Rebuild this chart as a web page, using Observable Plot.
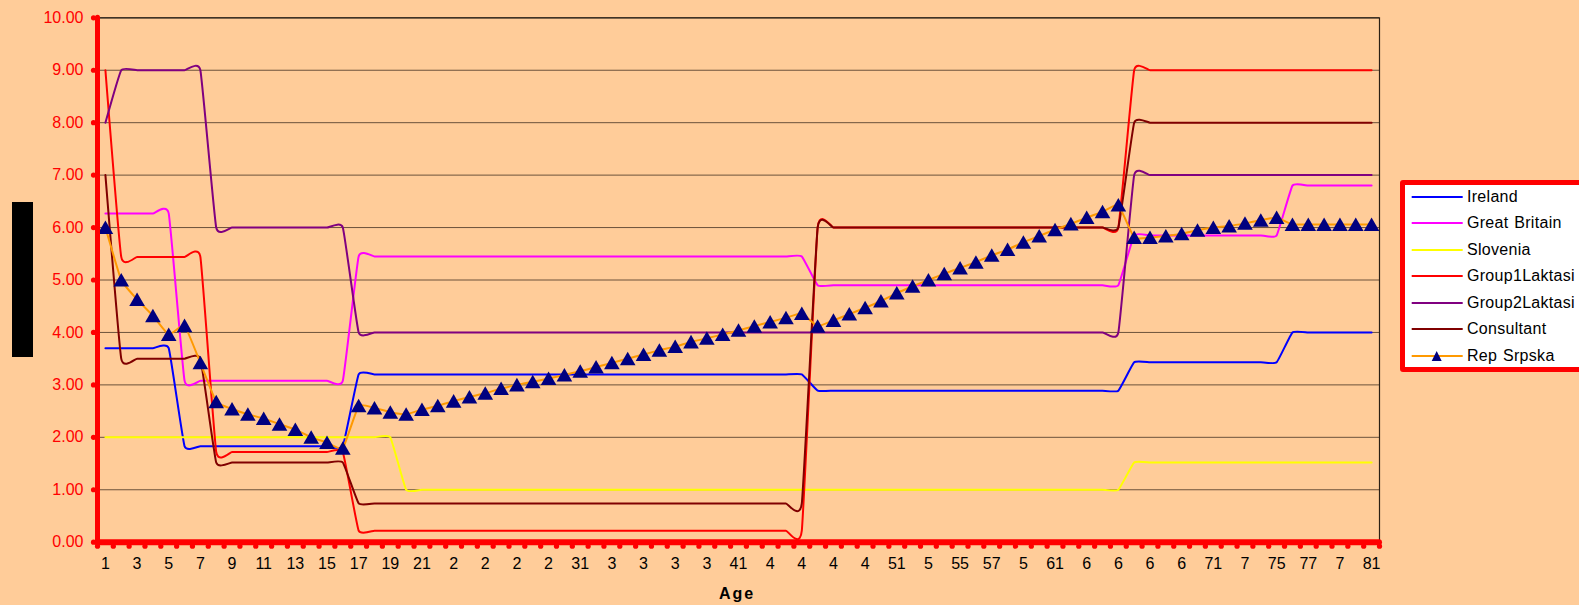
<!DOCTYPE html>
<html>
<head>
<meta charset="utf-8">
<script src="https://cdn.jsdelivr.net/npm/d3@7"></script>
<script src="https://cdn.jsdelivr.net/npm/@observablehq/plot@0.6"></script>
<style>
  html, body { margin: 0; padding: 0; background: #FFCC99; width: 1579px; height: 605px; overflow: hidden; }
  #wrap { position: relative; width: 1579px; height: 605px; font-family: "Liberation Sans", Arial, sans-serif; }
  #chart { position: absolute; left: 0; top: 0; }
  #ylab { position: absolute; left: 12px; top: 202px; width: 21px; height: 155px; background: #000; color: #000; }
  #xlab { position: absolute; left: 637px; width: 200px; top: 584px; text-align: center; font-weight: bold; font-size: 16px; letter-spacing: 2px; color: #000; line-height: 20px; }
  #legend { position: absolute; left: 1400px; top: 180px; width: 190px; height: 192px; box-sizing: border-box; border: 5px solid #FF0000; border-radius: 3px; background: #FFFFFF; }
  #legend .row { position: absolute; left: 0; height: 26px; width: 185px; }
  #legend .row svg { position: absolute; left: 0; top: 0; }
  #legend .row span { position: absolute; left: 62px; top: 0; line-height: 26px; font-size: 16px; letter-spacing: 0.3px; word-spacing: 1px; color: #000; white-space: nowrap; }
</style>
</head>
<body>
<div id="wrap">
  <div id="chart"></div>
  <div id="ylab"></div>
  <div id="xlab">Age</div>
  <div id="legend"></div>
</div>
<script>
// ---- categories / ticks ----
const ages = d3.range(1, 82);
const xTickLabels = ["1","3","5","7","9","11","13","15","17","19","21","2","2","2","2","31","3","3","3","3","41","4","4","4","4","51","5","55","57","5","61","6","6","6","6","71","7","75","77","7","81"];
const yTicks = [0, 1, 2, 3, 4, 5, 6, 7, 8, 9, 10];

// ---- series ----
const seriesNames = ["Ireland", "Great Britain", "Slovenia", "Group1Laktasi", "Group2Laktasi", "Consultant", "Rep Srpska"];
const seriesColors = ["#0000FF", "#FF00FF", "#FFFF00", "#FF0000", "#800080", "#800000", "#FF9900"];

const ireland = [
  3.7, 3.7, 3.7, 3.7, 3.7,
  1.83, 1.83, 1.83, 1.83, 1.83, 1.83, 1.83, 1.83, 1.83, 1.83, 1.83,
  3.2, 3.2, 3.2, 3.2, 3.2, 3.2, 3.2, 3.2, 3.2, 3.2, 3.2, 3.2, 3.2, 3.2, 3.2, 3.2, 3.2, 3.2, 3.2, 3.2, 3.2, 3.2, 3.2, 3.2, 3.2, 3.2, 3.2, 3.2, 3.2,
  2.89, 2.89, 2.89, 2.89, 2.89, 2.89, 2.89, 2.89, 2.89, 2.89, 2.89, 2.89, 2.89, 2.89, 2.89, 2.89, 2.89, 2.89, 2.89, 2.89,
  3.43, 3.43, 3.43, 3.43, 3.43, 3.43, 3.43, 3.43, 3.43, 3.43,
  4.0, 4.0, 4.0, 4.0, 4.0, 4.0
];
const greatBritain = [
  6.27, 6.27, 6.27, 6.27, 6.27,
  3.08, 3.08, 3.08, 3.08, 3.08, 3.08, 3.08, 3.08, 3.08, 3.08, 3.08,
  5.45, 5.45, 5.45, 5.45, 5.45, 5.45, 5.45, 5.45, 5.45, 5.45, 5.45, 5.45, 5.45, 5.45, 5.45, 5.45, 5.45, 5.45, 5.45, 5.45, 5.45, 5.45, 5.45, 5.45, 5.45, 5.45, 5.45, 5.45, 5.45,
  4.9, 4.9, 4.9, 4.9, 4.9, 4.9, 4.9, 4.9, 4.9, 4.9, 4.9, 4.9, 4.9, 4.9, 4.9, 4.9, 4.9, 4.9, 4.9, 4.9,
  5.85, 5.85, 5.85, 5.85, 5.85, 5.85, 5.85, 5.85, 5.85, 5.85,
  6.8, 6.8, 6.8, 6.8, 6.8, 6.8
];
const slovenia = [
  2.0, 2.0, 2.0, 2.0, 2.0, 2.0, 2.0, 2.0, 2.0, 2.0, 2.0, 2.0, 2.0, 2.0, 2.0, 2.0, 2.0, 2.0, 2.0,
  1.0, 1.0, 1.0, 1.0, 1.0, 1.0, 1.0, 1.0, 1.0, 1.0, 1.0, 1.0, 1.0, 1.0, 1.0, 1.0, 1.0, 1.0, 1.0, 1.0, 1.0, 1.0, 1.0,
  1.0, 1.0, 1.0, 1.0, 1.0, 1.0, 1.0, 1.0, 1.0, 1.0, 1.0, 1.0, 1.0, 1.0, 1.0, 1.0, 1.0, 1.0, 1.0, 1.0, 1.0, 1.0, 1.0,
  1.52, 1.52, 1.52, 1.52, 1.52, 1.52, 1.52, 1.52, 1.52, 1.52, 1.52, 1.52, 1.52, 1.52, 1.52, 1.52
];
const group1Laktasi = [
  9.0,
  5.44, 5.44, 5.44, 5.44, 5.44, 5.44,
  1.72, 1.72, 1.72, 1.72, 1.72, 1.72, 1.72, 1.72, 1.72,
  0.22, 0.22, 0.22, 0.22, 0.22, 0.22, 0.22, 0.22, 0.22, 0.22, 0.22, 0.22, 0.22, 0.22, 0.22, 0.22, 0.22, 0.22, 0.22, 0.22, 0.22, 0.22, 0.22, 0.22, 0.22, 0.22, 0.22, 0.22, 0.22,
  6.0, 6.0, 6.0, 6.0, 6.0, 6.0, 6.0, 6.0, 6.0, 6.0, 6.0, 6.0, 6.0, 6.0, 6.0, 6.0, 6.0, 6.0, 6.0, 6.0,
  9.0, 9.0, 9.0, 9.0, 9.0, 9.0, 9.0, 9.0, 9.0, 9.0, 9.0, 9.0, 9.0, 9.0, 9.0, 9.0
];
const group2Laktasi = [
  8.0,
  9.0, 9.0, 9.0, 9.0, 9.0, 9.0,
  6.0, 6.0, 6.0, 6.0, 6.0, 6.0, 6.0, 6.0, 6.0,
  4.0, 4.0, 4.0, 4.0, 4.0, 4.0, 4.0, 4.0, 4.0, 4.0, 4.0, 4.0, 4.0, 4.0, 4.0, 4.0, 4.0, 4.0, 4.0, 4.0, 4.0, 4.0, 4.0, 4.0, 4.0,
  4.0, 4.0, 4.0, 4.0, 4.0, 4.0, 4.0, 4.0, 4.0, 4.0, 4.0, 4.0, 4.0, 4.0, 4.0, 4.0, 4.0, 4.0, 4.0, 4.0, 4.0, 4.0, 4.0, 4.0,
  7.0, 7.0, 7.0, 7.0, 7.0, 7.0, 7.0, 7.0, 7.0, 7.0, 7.0, 7.0, 7.0, 7.0, 7.0, 7.0
];
const consultant = [
  7.0,
  3.5, 3.5, 3.5, 3.5, 3.5, 3.5,
  1.52, 1.52, 1.52, 1.52, 1.52, 1.52, 1.52, 1.52, 1.52,
  0.74, 0.74, 0.74, 0.74, 0.74, 0.74, 0.74, 0.74, 0.74, 0.74, 0.74, 0.74, 0.74, 0.74, 0.74, 0.74, 0.74, 0.74, 0.74, 0.74, 0.74, 0.74, 0.74, 0.74, 0.74, 0.74, 0.74, 0.74, 0.74,
  6.0, 6.0, 6.0, 6.0, 6.0, 6.0, 6.0, 6.0, 6.0, 6.0, 6.0, 6.0, 6.0, 6.0, 6.0, 6.0, 6.0, 6.0, 6.0, 6.0,
  8.0, 8.0, 8.0, 8.0, 8.0, 8.0, 8.0, 8.0, 8.0, 8.0, 8.0, 8.0, 8.0, 8.0, 8.0, 8.0
];
const repSrpska = [
  6.0, 5.0, 4.63, 4.32, 3.96, 4.13, 3.42, 2.68, 2.54, 2.44,
  2.36, 2.25, 2.15, 2.0, 1.9, 1.79, 2.6, 2.56, 2.48, 2.44,
  2.53, 2.6, 2.69, 2.77, 2.84, 2.93, 3.0, 3.06, 3.12, 3.19,
  3.26, 3.34, 3.42, 3.5, 3.58, 3.66, 3.73, 3.82, 3.89, 3.96,
  4.04, 4.12, 4.2, 4.28, 4.36, 4.12, 4.23, 4.35, 4.47, 4.6,
  4.75, 4.88, 5.0, 5.12, 5.23, 5.34, 5.47, 5.58, 5.72, 5.84,
  5.96, 6.07, 6.19, 6.3, 6.43, 5.81, 5.81, 5.84, 5.88, 5.95,
  6.0, 6.03, 6.08, 6.14, 6.19, 6.06, 6.06, 6.06, 6.06, 6.06,
  6.06
];

// ---- build tables ----
const lineSeries = [ireland, greatBritain, slovenia, group1Laktasi, group2Laktasi, consultant, repSrpska];
const table = [];
lineSeries.forEach((vals, k) => ages.forEach((a, i) => table.push({series: seriesNames[k], age: a, value: vals[i]})));
const repRows = ages.map((a, i) => ({age: a, value: repSrpska[i]}));
const xTickAges = ages.filter(a => a % 2 === 1);
const tickLabelOf = new Map(xTickAges.map((a, i) => [a, xTickLabels[i]]));
const xDomain = [ages[0] - 0.5, ages[ages.length - 1] + 0.5];
const yDomain = [yTicks[0], yTicks[yTicks.length - 1]];
const boundaries = [xDomain[0], ...ages.map(a => a + 0.5)];
const curve = d3.curveCardinal.tension(0.62);

const chart = Plot.plot({
  width: 1579,
  height: 605,
  marginLeft: 97,
  marginRight: 200,
  marginTop: 17.3,
  marginBottom: 63.3,
  style: {background: "transparent", fontFamily: '"Liberation Sans", Arial, sans-serif', overflow: "visible"},
  x: {type: "linear", domain: xDomain, axis: null},
  y: {type: "linear", domain: yDomain, axis: null},
  color: {domain: seriesNames, range: seriesColors},
  marks: [
    Plot.ruleY(yTicks.filter(d => d > yDomain[0] && d < yDomain[1]), {x1: xDomain[0], x2: xDomain[1], stroke: "#3b2a1c", strokeOpacity: 0.75, strokeWidth: 1}),
    Plot.ruleY([yDomain[1]], {x1: xDomain[0], x2: xDomain[1], stroke: "#000", strokeWidth: 1.2}),
    Plot.ruleX([xDomain[1]], {y1: yDomain[0], y2: yDomain[1], stroke: "#2b1f14", strokeWidth: 1.2}),
    Plot.line(table, {x: "age", y: "value", z: "series", stroke: "series", strokeWidth: 2, curve}),
    Plot.dot(repRows, {x: "age", y: "value", symbol: "triangle", r: 5.8, fill: "#000080", dy: 2}),
    Plot.ruleX([xDomain[0]], {y1: yDomain[0], y2: yDomain[1], stroke: "#FF0000", strokeWidth: 5, strokeLinecap: "round"}),
    Plot.ruleY([yDomain[0]], {x1: xDomain[0], x2: xDomain[1], stroke: "#FF0000", strokeWidth: 6, strokeLinecap: "round"}),
    Plot.dot(boundaries, {x: d => d, y: yDomain[0], dy: 4, r: 2.6, fill: "#FF0000"}),
    Plot.dot(yTicks, {x: xDomain[0], y: d => d, dx: -4, r: 2.6, fill: "#FF0000"}),
    Plot.text(yTicks, {x: xDomain[0], y: d => d, text: d => d.toFixed(2), dx: -14, textAnchor: "end", fill: "#FF0000", fontSize: 16}),
    Plot.text(xTickAges, {x: d => d, y: yDomain[0], text: d => tickLabelOf.get(d), dy: 22, fill: "#000", fontSize: 16})
  ]
});
document.getElementById("chart").appendChild(chart);

// ---- legend ----
const legend = document.getElementById("legend");
seriesNames.forEach((name, k) => {
  const row = document.createElement("div");
  row.className = "row";
  row.style.top = (11.7 + k * 26.5 - 13) + "px";
  const marker = name === "Rep Srpska" ? '<path d="M31.7,8 L36.7,18 L26.7,18 Z" fill="#000080"/>' : "";
  row.innerHTML = `<svg width="60" height="26"><line x1="6.7" x2="57.7" y1="13" y2="13" stroke="${seriesColors[k]}" stroke-width="2"/>${marker}</svg><span>${name}</span>`;
  legend.appendChild(row);
});
</script>
</body>
</html>
